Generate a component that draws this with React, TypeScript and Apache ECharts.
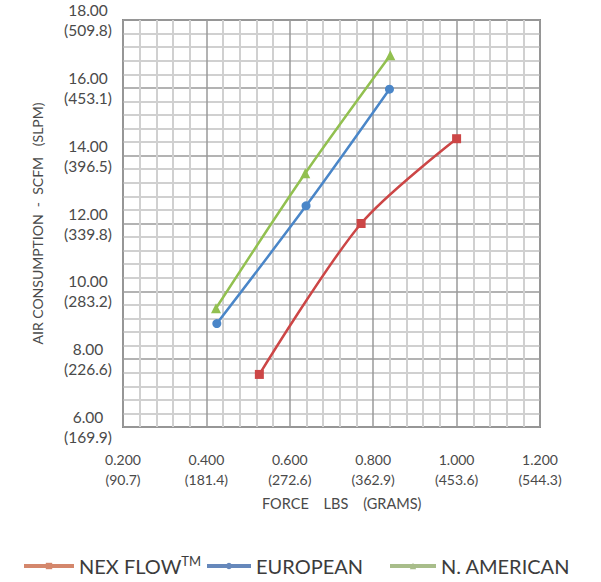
import React, { useEffect, useRef } from "react";
import * as echarts from "echarts";

const xTickLbs = ["0.200", "0.400", "0.600", "0.800", "1.000", "1.200"];
const xTickGrams = ["(90.7)", "(181.4)", "(272.6)", "(362.9)", "(453.6)", "(544.3)"];
const yTickScfm = ["6.00", "8.00", "10.00", "12.00", "14.00", "16.00", "18.00"];
const yTickSlpm = ["(169.9)", "(226.6)", "(283.2)", "(339.8)", "(396.5)", "(453.1)", "(509.8)"];

const seriesNames = ["NEX FLOW", "EUROPEAN", "N. AMERICAN"];
const nexFlow = [
  [0.527, 7.55],
  [0.771, 12.0],
  [1.0, 14.5],
];
const european = [
  [0.425, 9.05],
  [0.639, 12.52],
  [0.839, 15.96],
];
const nAmerican = [
  [0.423, 9.5],
  [0.637, 13.48],
  [0.841, 16.96],
];

const FONT = "Lato, 'Liberation Sans', sans-serif";

export default function App() {
  const ref = useRef<HTMLDivElement>(null);
  useEffect(() => {
    document.body.style.margin = "0";
    const chart = echarts.init(ref.current!, null, { renderer: "svg" });
    const lineColors = ["#cc4646", "#4a86c8", "#92c050"];
    const legendColors = ["#d4876c", "#6688bb", "#a8bd8a"];
    const symbols = ["rect", "circle", "triangle"];
    const symbolSizes = [9, 9, 10];
    const datas = [nexFlow, european, nAmerican];
    const legendLefts = [17, 200, 383];
    const legendWidths = [50, 44, 46];
    chart.setOption({
      animation: false,
      backgroundColor: "#ffffff",
      grid: {
        left: 123,
        top: 17,
        right: 61,
        bottom: 155,
        show: true,
        borderColor: "#8a8a8a",
        borderWidth: 2,
        containLabel: false,
      },
      xAxis: {
        type: "value",
        min: 0.2,
        max: 1.2,
        interval: 0.2,
        axisLine: { show: false },
        axisTick: { show: false },
        minorTick: { show: false, splitNumber: 5 },
        splitLine: { show: true, lineStyle: { color: "#9a9a9a", width: 1.5 } },
        minorSplitLine: { show: true, lineStyle: { color: "#d0d0d0", width: 2 } },
        axisLabel: {
          margin: 22,
          color: "#4a4a4a",
          fontFamily: FONT,
          fontSize: 14,
          lineHeight: 20,
          formatter: (v: number) => {
            const i = Math.round((v - 0.2) / 0.2);
            return xTickLbs[i] + "\n" + xTickGrams[i];
          },
        },
      },
      yAxis: {
        type: "value",
        min: 6,
        max: 18,
        interval: 2,
        name: "AIR CONSUMPTION  -  SCFM   (SLPM)",
        nameLocation: "middle",
        nameGap: 79,
        nameTextStyle: { color: "#4a4a4a", fontFamily: FONT, fontSize: 14 },
        axisLine: { show: false },
        axisTick: { show: false },
        minorTick: { show: false, splitNumber: 5 },
        splitLine: { show: true, lineStyle: { color: "#9a9a9a", width: 1.5 } },
        minorSplitLine: { show: true, lineStyle: { color: "#d0d0d0", width: 2 } },
        axisLabel: {
          margin: 35,
          align: "center",
          color: "#4a4a4a",
          fontFamily: FONT,
          fontSize: 15.5,
          lineHeight: 20,
          formatter: (v: number) => {
            const i = Math.round((v - 6) / 2);
            return yTickScfm[i] + "\n" + yTickSlpm[i];
          },
        },
      },
      graphic: [
        {
          type: "text",
          left: 262,
          top: 496,
          style: {
            text: "FORCE    LBS    (GRAMS)",
            fill: "#4a4a4a",
            font: "14.5px " + FONT,
          },
        },
      ],
      legend: seriesNames.map((n, i) => ({
        left: legendLefts[i],
        top: 549,
        itemWidth: legendWidths[i],
        itemHeight: 8,
        textStyle: {
          color: "#3c3c3c",
          fontFamily: FONT,
          fontSize: 20,
          lineHeight: 24,
          rich: {
            sup: { fontSize: 13, fontFamily: FONT, color: "#3c3c3c", padding: [0, 0, 10, 0] },
          },
        },
        formatter: (name: string) => (name === "NEX FLOW" ? "NEX FLOW{sup|TM}" : name),
        data: [
          {
            name: n,
            itemStyle: { color: legendColors[i] },
            lineStyle: { color: legendColors[i], width: 4 },
          },
        ],
      })),
      series: seriesNames.map((n, i) => ({
        name: n,
        type: "line",
        data: datas[i],
        smooth: 0.3,
        symbol: symbols[i],
        symbolSize: symbolSizes[i],
        lineStyle: { color: lineColors[i], width: 2.5 },
        itemStyle: { color: lineColors[i] },
      })),
    });
    return () => chart.dispose();
  }, []);
  return (
    <div
      ref={ref}
      style={{ position: "absolute", left: 0, top: 0, width: 601, height: 582 }}
    />
  );
}
